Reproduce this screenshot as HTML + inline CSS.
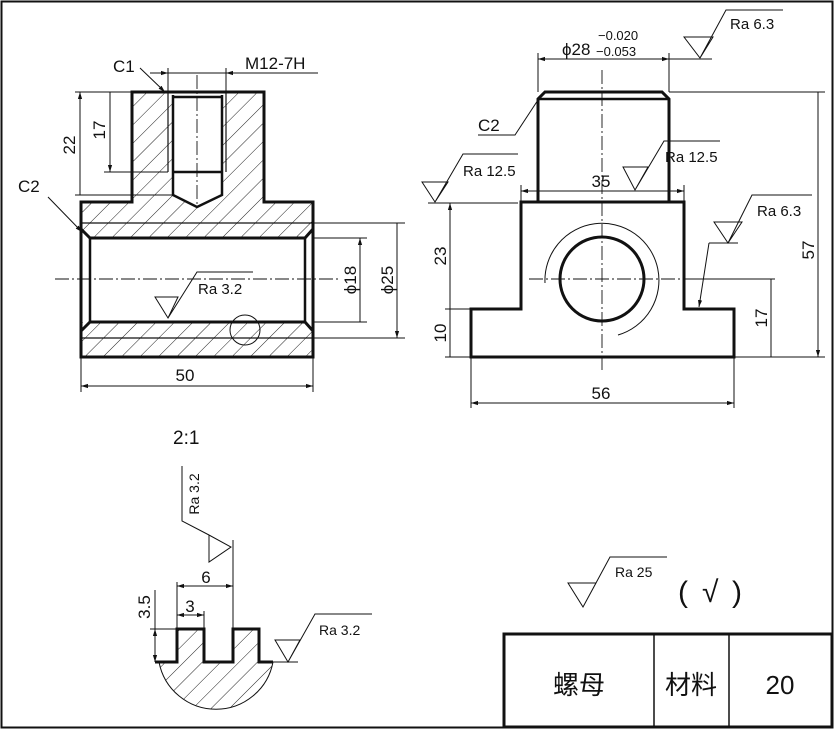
<!DOCTYPE html>
<html><head><meta charset="utf-8"><style>
html,body{margin:0;padding:0;background:#fff}
svg{display:block}
text{font-family:"Liberation Sans","Noto Sans CJK SC",sans-serif;fill:#111}
</style></head><body>
<svg width="835" height="731" viewBox="0 0 835 731" xmlns="http://www.w3.org/2000/svg">
<defs>
<pattern id="h" width="13" height="13" patternUnits="userSpaceOnUse" patternTransform="rotate(45)">
<line x1="0" y1="0" x2="0" y2="13" stroke="#222" stroke-width="1"/>
</pattern>
<marker id="a" viewBox="0 0 10 10" refX="10" refY="5" markerWidth="7" markerHeight="7" orient="auto-start-reverse">
<path d="M0,2 L10,5 L0,8 z" fill="#111"/></marker>
</defs>
<rect x="1.5" y="1.5" width="831" height="726" fill="none" stroke="#111" stroke-width="2"/>

<g stroke="#111" fill="none">
<path d="M132,92 L173,92 L173,195 L197,207 L222,195 L222,92 L264,92 L264,202 L313,202 L313,238 L81,238 L81,202 L132,202 Z" fill="url(#h)" stroke="none"/>
<rect x="81" y="322" width="232" height="35" fill="url(#h)" stroke="none"/>
<rect x="90" y="238" width="215" height="84" fill="#fff" stroke="none"/>
<path d="M132,202 V92 H264 V202 H313 V357 H81 V202 Z" stroke-width="3"/>
<path d="M81,229 L90,238 H305 L313,229 M81,331 L90,322 H305 L313,331" stroke-width="3"/>
<path d="M90,238 V322 M305,238 V322" stroke-width="2.5"/>
<path d="M173,95 V195 L197,207 L222,195 V95 M173,172 H222 M173,97 H222" stroke-width="2.5"/>
<path d="M168,93 V172 M226,93 V172" stroke-width="1.2"/>
<path d="M81,223 H313 M81,338 H313" stroke-width="1.2"/>
<path d="M55,279 H340 M197,75 V205" stroke-width="0.9" stroke-dasharray="14,3,2,3"/>
<g stroke-width="1">
<path d="M75,92 H132 M75,195 H173 M104,172 H168"/>
<path d="M80,92 V195 M110,92 V172" marker-start="url(#a)" marker-end="url(#a)"/>
<path d="M168,68 V92 M226,68 V92"/>
<path d="M150,73 H168" marker-end="url(#a)"/><path d="M244,73 H226" marker-end="url(#a)"/>
<path d="M168,73 H226 M226,73 H318"/>
<path d="M140,68 L165,92" marker-end="url(#a)"/>
<path d="M48,197 L82,232" marker-end="url(#a)"/>
<path d="M313,238 H367 M313,322 H367 M313,223 H405 M313,338 H405"/>
<path d="M360,238 V322 M397,223 V338" marker-start="url(#a)" marker-end="url(#a)"/>
<path d="M81,357 V392 M313,357 V392"/>
<path d="M81,386 H313" marker-start="url(#a)" marker-end="url(#a)"/>
<path d="M155,297 H178 L168,318 Z M168,318 L197,272 H253"/>
<circle cx="245" cy="330" r="15"/>
</g>

<path d="M538,202 V99 L545,92 H662 L669,99 V202" stroke-width="3"/>
<path d="M538,99 H669" stroke-width="2.5"/>
<path d="M521,202 H684 V309 H734 V357 H471 V309 H521 Z" stroke-width="3"/>
<circle cx="602" cy="279" r="42" stroke-width="3"/>
<path d="M545,283 A57,57 0 1 1 618,335" stroke-width="1"/>
<path d="M602,70 V373 M529,279 H775" stroke-width="0.9" stroke-dasharray="14,3,2,3"/>
<g stroke-width="1">
<path d="M538,53 V92 M669,53 V92"/>
<path d="M538,59 H669" marker-start="url(#a)" marker-end="url(#a)"/>
<path d="M669,59 H712 M684,37 H713 L700,58 Z M700,58 L726,10 H783"/>
<path d="M478,135 H515 L538,100"/>
<path d="M623,167 H648 L635,190 Z M635,190 L664,141 H720"/>
<path d="M521,191 H684" marker-start="url(#a)" marker-end="url(#a)"/>
<path d="M521,185 V202 M684,185 V202"/>
<path d="M422,182 H448 L435,202 Z M435,202 L463,154 H518 M428,203 H518"/>
<path d="M714,222 H742 L728,243 Z M728,243 L752,195 H812 M709,243 H738"/>
<path d="M709,243 L699,307" marker-end="url(#a)"/>
<path d="M445,309 H471 M445,357 H825 M669,92 H825 M684,279 H775"/>
<path d="M450,203 V309 M450,309 V357 M771,279 V357 M818,92 V357" marker-start="url(#a)" marker-end="url(#a)"/>
<path d="M471,357 V408 M734,357 V408"/>
<path d="M471,403 H734" marker-start="url(#a)" marker-end="url(#a)"/>
</g>

<path d="M159,662 H177 V629 H204 V662 H233 V629 H259 V662 H273 A58,58 0 0 1 159,662 Z" fill="url(#h)" stroke="none"/>
<path d="M159,662 A58,58 0 0 0 273,662" stroke-width="1"/>
<path d="M155,662 H177 V629 H204 V662 H233 V629 H259 V662 H273" stroke-width="3"/>
<g stroke-width="1">
<path d="M155,590 V662 M150,629 H177"/>
<path d="M155,629 V662" marker-start="url(#a)" marker-end="url(#a)"/>
<path d="M177,582 V629 M204,611 V629 M233,540 V629"/>
<path d="M177,615 H204" marker-start="url(#a)" marker-end="url(#a)"/>
<path d="M177,586 H233" marker-start="url(#a)" marker-end="url(#a)"/>
<path d="M182,466 V521 L209,535 M209,535 V562 L231,547 Z"/>
<path d="M273,662 H298 M275,640 H300 L288,662 Z M288,662 L315,614 H372"/>
<path d="M568,583 H596 L583,607 Z M583,607 L610,557 H667"/>
</g>
<rect x="504" y="634" width="328" height="93" stroke-width="3"/>
<path d="M654,634 V727 M729,634 V727" stroke-width="1.5"/>
</g>

<g font-size="17">
<text x="113" y="72">C1</text>
<text x="245" y="69">M12-7H</text>
<text x="18" y="192">C2</text>
<text transform="translate(75,145) rotate(-90)" text-anchor="middle">22</text>
<text transform="translate(105,130) rotate(-90)" text-anchor="middle">17</text>
<text x="198" y="294" font-size="15">Ra 3.2</text>
<text transform="translate(356,280) rotate(-90)" text-anchor="middle">ϕ18</text>
<text transform="translate(393,280) rotate(-90)" text-anchor="middle">ϕ25</text>
<text x="185" y="381" text-anchor="middle">50</text>

<text x="562" y="55">ϕ28</text>
<text x="598" y="40" font-size="13">−0.020</text>
<text x="596" y="56" font-size="13">−0.053</text>
<text x="730" y="29" font-size="15">Ra 6.3</text>
<text x="478" y="131">C2</text>
<text x="665" y="162" font-size="15">Ra 12.5</text>
<text x="601" y="187" text-anchor="middle">35</text>
<text x="463" y="176" font-size="15">Ra 12.5</text>
<text x="757" y="216" font-size="15">Ra 6.3</text>
<text transform="translate(446,256) rotate(-90)" text-anchor="middle">23</text>
<text transform="translate(446,333) rotate(-90)" text-anchor="middle">10</text>
<text transform="translate(767,318) rotate(-90)" text-anchor="middle">17</text>
<text transform="translate(814,250) rotate(-90)" text-anchor="middle">57</text>
<text x="601" y="399" text-anchor="middle">56</text>

<text x="173" y="444" font-size="19">2:1</text>
<text transform="translate(199,494) rotate(-90)" text-anchor="middle" font-size="14">Ra 3.2</text>
<text x="206" y="583" text-anchor="middle">6</text>
<text x="190" y="612" text-anchor="middle">3</text>
<text transform="translate(150,607) rotate(-90)" text-anchor="middle">3.5</text>
<text x="319" y="635" font-size="14">Ra 3.2</text>

<text x="615" y="577" font-size="14">Ra 25</text>
<text x="678" y="602" font-size="30">(</text>
<text x="702" y="602" font-size="30">√</text>
<text x="732" y="602" font-size="30">)</text>

<text x="579" y="694" font-size="26" text-anchor="middle">螺母</text>
<text x="691" y="694" font-size="26" text-anchor="middle">材料</text>
<text x="780" y="694" font-size="26" text-anchor="middle">20</text>
</g>
</svg>
</body></html>
